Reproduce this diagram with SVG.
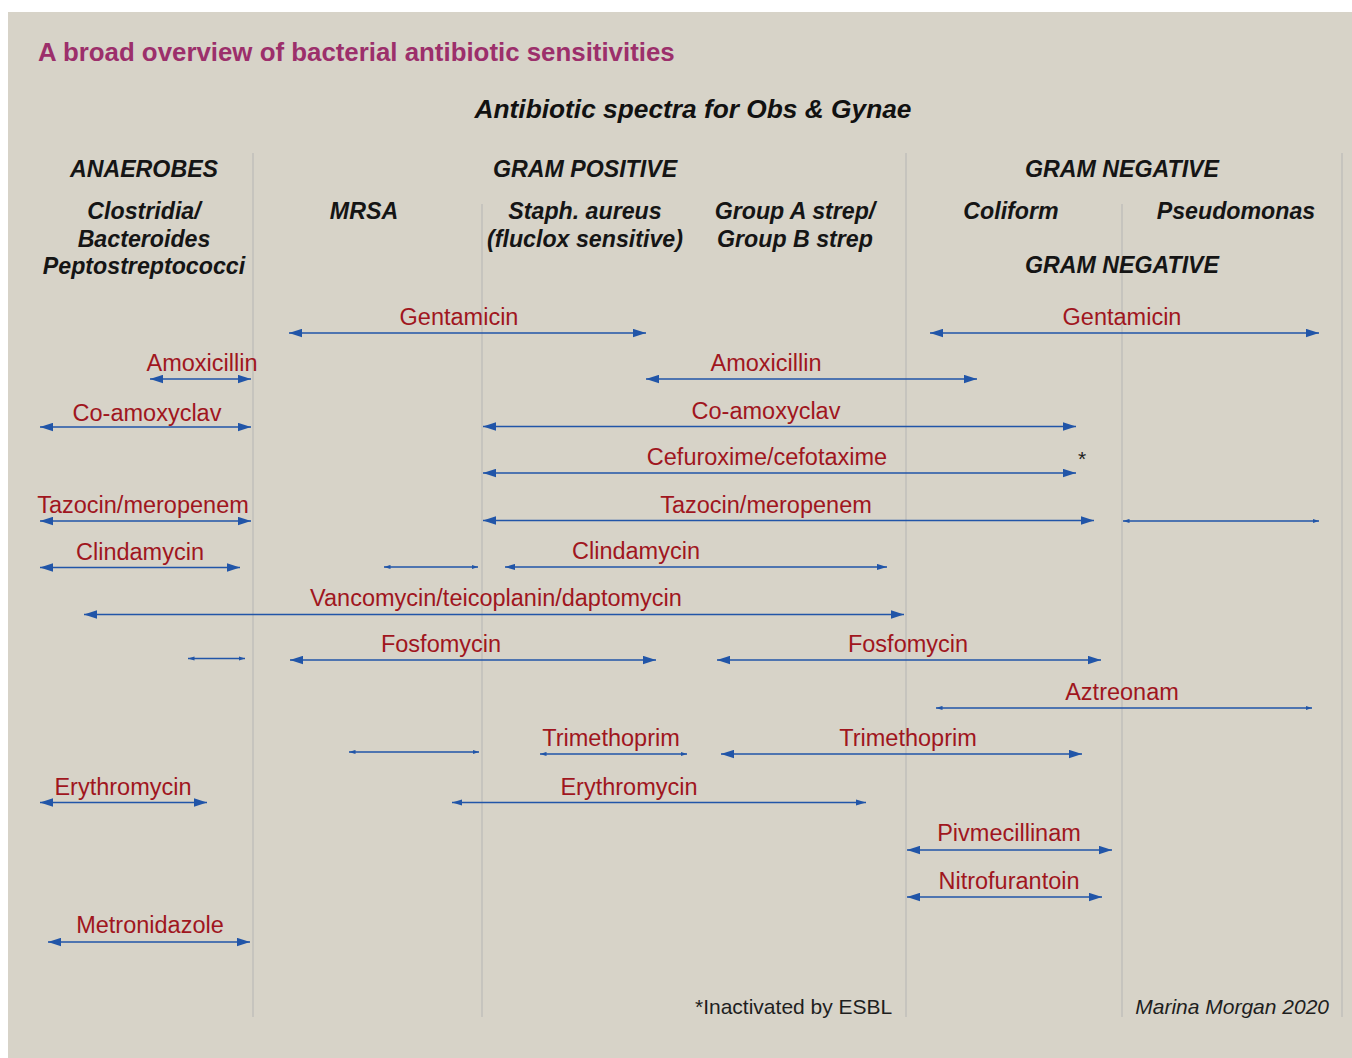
<svg xmlns="http://www.w3.org/2000/svg" width="1352" height="1058" viewBox="0 0 1352 1058">
<style>
.t{font-family:"Liberation Sans",Arial,Helvetica,sans-serif}
.title{font-size:25.85px;font-weight:bold;fill:#9c2f6b}
.sub{font-size:26.3px;font-weight:bold;font-style:italic;fill:#111}
.hd{font-size:23.2px;font-weight:bold;font-style:italic;fill:#151515;text-anchor:middle}
.drug{font-size:23.5px;fill:#a0161e;text-anchor:middle}
.note{font-size:21px;fill:#1e1e1e}
.vl{stroke:#bdbcb8;stroke-width:1.3}
.a{stroke:#2155a8;stroke-width:1.5;fill:none}
.big{marker-start:url(#mb);marker-end:url(#mb)}
.med{marker-start:url(#mm);marker-end:url(#mm)}
.sm{marker-start:url(#ms);marker-end:url(#ms)}
</style>
<defs>
<marker id="mb" markerUnits="userSpaceOnUse" markerWidth="14" markerHeight="9" refX="13" refY="4.5" orient="auto-start-reverse"><path d="M0,0.3 L13,4.5 L0,8.7 z" fill="#2155a8"/></marker>
<marker id="mm" markerUnits="userSpaceOnUse" markerWidth="11" markerHeight="7" refX="10" refY="3.5" orient="auto-start-reverse"><path d="M0,0.4 L10,3.5 L0,6.6 z" fill="#2155a8"/></marker>
<marker id="ms" markerUnits="userSpaceOnUse" markerWidth="7" markerHeight="5" refX="6.5" refY="2.5" orient="auto-start-reverse"><path d="M0,0.4 L6.5,2.5 L0,4.6 z" fill="#2155a8"/></marker>
</defs>
<rect x="0" y="0" width="1352" height="1058" fill="#ffffff"/>
<rect x="8" y="12" width="1344" height="1046" fill="#d7d3c8"/>
<g id="gridlines">
<line class="vl" x1="253" y1="153" x2="253" y2="1017"/>
<line class="vl" x1="482" y1="204" x2="482" y2="1017"/>
<line class="vl" x1="906" y1="153" x2="906" y2="1017"/>
<line class="vl" x1="1122" y1="204" x2="1122" y2="1017"/>
<line class="vl" x1="1342" y1="153" x2="1342" y2="1017"/>
</g>
<g id="titles" class="t">
<text class="title" x="38" y="61">A broad overview of bacterial antibiotic sensitivities</text>
<text class="sub" x="693" y="118" text-anchor="middle">Antibiotic spectra for Obs &amp; Gynae</text>
</g>
<g id="headers" class="t">
<text class="hd" x="144" y="177">ANAEROBES</text>
<text class="hd" x="585" y="177">GRAM POSITIVE</text>
<text class="hd" x="1122" y="177">GRAM NEGATIVE</text>
<text class="hd" x="144" y="219">Clostridia/</text>
<text class="hd" x="144" y="247">Bacteroides</text>
<text class="hd" x="144" y="274">Peptostreptococci</text>
<text class="hd" x="364" y="219">MRSA</text>
<text class="hd" x="585" y="219">Staph. aureus</text>
<text class="hd" x="585" y="247">(fluclox sensitive)</text>
<text class="hd" x="795" y="219">Group A strep/</text>
<text class="hd" x="795" y="247">Group B strep</text>
<text class="hd" x="1011" y="219">Coliform</text>
<text class="hd" x="1236" y="219">Pseudomonas</text>
<text class="hd" x="1122" y="273">GRAM NEGATIVE</text>
</g>
<g id="connectors">
<line class="a big" x1="289" y1="333" x2="646" y2="333"/>
<line class="a big" x1="930" y1="333" x2="1319" y2="333"/>
<line class="a big" x1="150" y1="379" x2="251" y2="379"/>
<line class="a big" x1="646" y1="379" x2="977" y2="379"/>
<line class="a big" x1="40" y1="427" x2="251" y2="427"/>
<line class="a big" x1="483" y1="426.5" x2="1076" y2="426.5"/>
<line class="a big" x1="483" y1="473" x2="1076" y2="473"/>
<line class="a big" x1="40" y1="521" x2="251" y2="521"/>
<line class="a big" x1="483" y1="520.5" x2="1094" y2="520.5"/>
<line class="a sm" x1="1123" y1="521" x2="1319" y2="521"/>
<line class="a big" x1="40" y1="567.5" x2="240" y2="567.5"/>
<line class="a sm" x1="384" y1="567" x2="478" y2="567"/>
<line class="a med" x1="505" y1="567" x2="887" y2="567"/>
<line class="a big" x1="84" y1="614.5" x2="904" y2="614.5"/>
<line class="a sm" x1="188" y1="658.5" x2="245" y2="658.5"/>
<line class="a big" x1="290" y1="660" x2="656" y2="660"/>
<line class="a big" x1="717" y1="660" x2="1101" y2="660"/>
<line class="a sm" x1="936" y1="708" x2="1312" y2="708"/>
<line class="a sm" x1="349" y1="752" x2="479" y2="752"/>
<line class="a sm" x1="540" y1="754" x2="687" y2="754"/>
<line class="a big" x1="721" y1="754" x2="1082" y2="754"/>
<line class="a big" x1="40" y1="802.5" x2="207" y2="802.5"/>
<line class="a med" x1="452" y1="802.5" x2="866" y2="802.5"/>
<line class="a big" x1="907" y1="850" x2="1112" y2="850"/>
<line class="a big" x1="907" y1="897" x2="1102" y2="897"/>
<line class="a big" x1="48" y1="942" x2="250" y2="942"/>
</g>
<g id="labels" class="t">
<text class="drug" x="459" y="325">Gentamicin</text>
<text class="drug" x="1122" y="325">Gentamicin</text>
<text class="drug" x="202" y="371">Amoxicillin</text>
<text class="drug" x="766" y="371">Amoxicillin</text>
<text class="drug" x="147" y="421">Co-amoxyclav</text>
<text class="drug" x="766" y="419">Co-amoxyclav</text>
<text class="drug" x="767" y="465">Cefuroxime/cefotaxime</text>
<text class="drug" x="143" y="513">Tazocin/meropenem</text>
<text class="drug" x="766" y="513">Tazocin/meropenem</text>
<text class="drug" x="140" y="560">Clindamycin</text>
<text class="drug" x="636" y="559">Clindamycin</text>
<text class="drug" x="496" y="606">Vancomycin/teicoplanin/daptomycin</text>
<text class="drug" x="441" y="652">Fosfomycin</text>
<text class="drug" x="908" y="652">Fosfomycin</text>
<text class="drug" x="1122" y="700">Aztreonam</text>
<text class="drug" x="611" y="746">Trimethoprim</text>
<text class="drug" x="908" y="746">Trimethoprim</text>
<text class="drug" x="123" y="795">Erythromycin</text>
<text class="drug" x="629" y="795">Erythromycin</text>
<text class="drug" x="1009" y="841">Pivmecillinam</text>
<text class="drug" x="1009" y="889">Nitrofurantoin</text>
<text class="drug" x="150" y="933">Metronidazole</text>
</g>
<g id="notes" class="t">
<text class="note" x="1082" y="466" text-anchor="middle" font-size="23">*</text>
<text class="note" x="695" y="1014">*Inactivated by ESBL</text>
<text class="note" x="1329" y="1014" text-anchor="end" font-style="italic">Marina Morgan 2020</text>
</g>
</svg>
